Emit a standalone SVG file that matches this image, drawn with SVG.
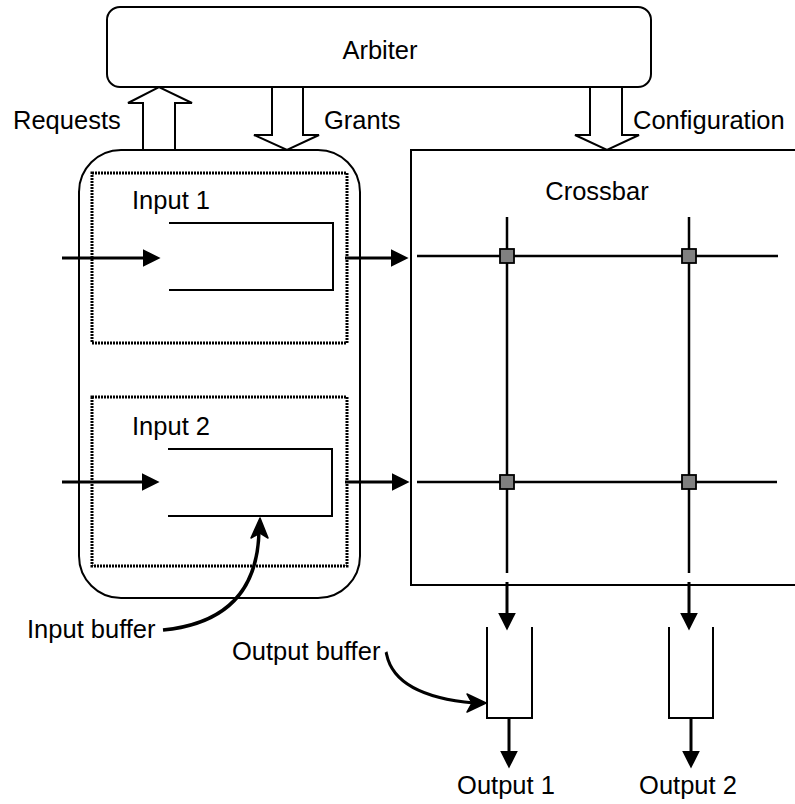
<svg xmlns="http://www.w3.org/2000/svg" width="795" height="804" viewBox="0 0 795 804">
  <style>
    .lbl { font-family: "Liberation Sans", Arial, sans-serif; font-size: 25.5px; fill: #000; }
    .box { fill: #fff; stroke: #000; stroke-width: 2; }
    .dotted { fill: none; stroke: #000; stroke-width: 3; stroke-dasharray: 2 1; }
    .buf { fill: none; stroke: #000; stroke-width: 2; }
    .wire { stroke: #000; stroke-width: 2.5; fill: none; }
    .flow { stroke: #000; stroke-width: 3; fill: none; marker-end: url(#head); }
    .hollow { fill: #fff; stroke: #000; stroke-width: 2; stroke-linejoin: miter; }
    .xpt { fill: #808080; stroke: #000; stroke-width: 1.8; }
    .curve { stroke: #000; stroke-width: 3.5; fill: none; }
  </style>
  <defs>
    <marker id="head" markerUnits="userSpaceOnUse" markerWidth="18" markerHeight="18" viewBox="0 0 17 17" refX="7" refY="8.5" orient="auto">
      <path d="M0,0 L17,8.5 L0,17 z" fill="#000"/>
    </marker>
  </defs>
  <rect width="795" height="804" fill="#fff"/>

  <!-- arbiter -->
  <g id="arbiter">
    <rect class="box" x="107" y="7" width="544" height="80" rx="13" ry="13"/>
    <text class="lbl" x="380" y="59" text-anchor="middle">Arbiter</text>
  </g>

  <!-- input port block -->
  <g id="inputs">
    <rect class="box" x="79" y="150" width="281" height="448" rx="42" ry="42"/>
  </g>

  <g id="input1">
    <rect class="dotted" x="92" y="173" width="255" height="170"/>
    <text class="lbl" x="132" y="209">Input 1</text>
    <path class="buf" d="M169,223 H333 V290 H169"/>
  </g>

  <g id="input2">
    <rect class="dotted" x="92" y="397" width="255" height="169"/>
    <text class="lbl" x="132" y="435">Input 2</text>
    <path class="buf" d="M168,449 H332 V516 H168"/>
  </g>

  <!-- crossbar switch -->
  <g id="crossbar">
    <rect class="box" x="411" y="150" width="400" height="435"/>
    <text class="lbl" x="597" y="200" text-anchor="middle">Crossbar</text>
    <line class="wire" x1="417" y1="256" x2="778" y2="256"/>
    <line class="wire" x1="417" y1="482" x2="777" y2="482"/>
    <line class="wire" x1="507" y1="217" x2="507" y2="573"/>
    <line class="wire" x1="689" y1="217" x2="689" y2="573"/>
    <rect class="xpt" x="500" y="249" width="14" height="14"/>
    <rect class="xpt" x="682" y="249" width="14" height="14"/>
    <rect class="xpt" x="500" y="475" width="14" height="14"/>
    <rect class="xpt" x="682" y="475" width="14" height="14"/>
  </g>

  <!-- output buffers -->
  <g id="output1">
    <path class="buf" d="M487,627 V718 H532 V627"/>
    <text class="lbl" x="506" y="794" text-anchor="middle">Output 1</text>
  </g>
  <g id="output2">
    <path class="buf" d="M669,627 V718 H713 V627"/>
    <text class="lbl" x="688" y="794" text-anchor="middle">Output 2</text>
  </g>

  <!-- annotations -->
  <g id="labels">
    <text class="lbl" x="13" y="129">Requests</text>
    <text class="lbl" x="324" y="129">Grants</text>
    <text class="lbl" x="633" y="129">Configuration</text>
    <text class="lbl" x="27" y="638">Input buffer</text>
    <text class="lbl" x="232" y="660">Output buffer</text>
  </g>

  <!-- connectors -->
  <g id="connectors">
    <!-- control signals between arbiter, inputs and crossbar -->
    <polygon class="hollow" points="143,150 143,103 128,103 159,87 192,103 175,103 175,150"/>
    <polygon class="hollow" points="272,87 272,135 254,135 287,150 319,135 303,135 303,87"/>
    <polygon class="hollow" points="590,87 590,135 575,135 607,150 639,135 622,135 622,87"/>

    <!-- data path -->
    <line class="flow" x1="62" y1="258" x2="150" y2="258"/>
    <line class="flow" x1="345" y1="258" x2="398" y2="258"/>
    <line class="flow" x1="62" y1="482" x2="149" y2="482"/>
    <line class="flow" x1="345" y1="482" x2="399" y2="482"/>
    <line class="flow" x1="507" y1="582" x2="507" y2="620"/>
    <line class="flow" x1="689" y1="582" x2="689" y2="620"/>
    <line class="flow" x1="509" y1="718" x2="509" y2="758"/>
    <line class="flow" x1="691" y1="718" x2="691" y2="758"/>

    <!-- callout pointers -->
    <path class="curve" d="M163,630 C215,625 258,600 259,530"/>
    <path d="M260,518 L268,538 L260,533 L251,538 z" fill="#000" stroke="#000" stroke-width="1.5" stroke-linejoin="round"/>
    <path class="curve" style="stroke-width:3" d="M386,652 C388,656 386,695 474,703"/>
    <path d="M486,703 L467,694 L472,703 L467,712 z" fill="#000" stroke="#000" stroke-width="1.5" stroke-linejoin="round"/>
  </g>
</svg>
